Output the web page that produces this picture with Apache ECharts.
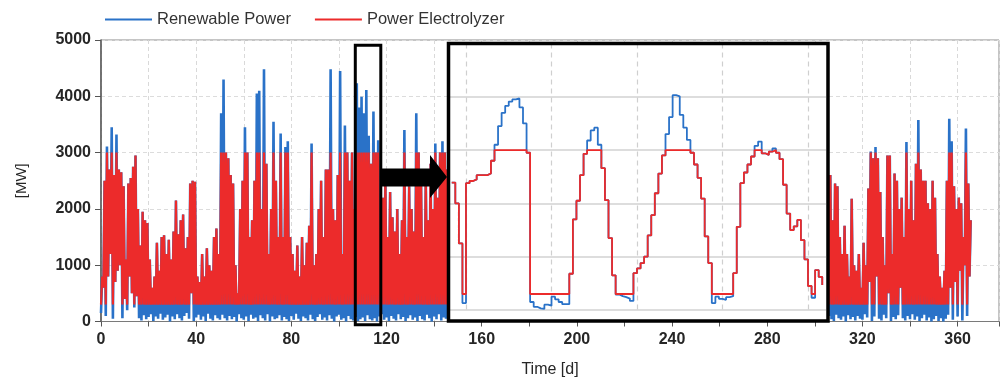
<!DOCTYPE html>
<html><head><meta charset="utf-8">
<script src="https://cdn.jsdelivr.net/npm/echarts@6/dist/echarts.min.js"></script>
<style>html,body{margin:0;padding:0;background:#fff}#c{width:1002px;height:383px}</style>
</head><body><div id="c"></div>
<script>
// ---------- data ----------
const seriesNames = ['Renewable Power', 'Power Electrolyzer'];
const xTickLabels = [0, 40, 80, 120, 160, 200, 240, 280, 320, 360];
const yTickLabels = [0, 1000, 2000, 3000, 4000, 5000];

// main chart, daily peak / trough, segment A starts at day 0
const dayStartA = 0;
const renewablePeakA = [800,2500,3110,2700,3450,2600,3320,2700,2650,2400,
1100,2450,2550,2750,2950,2000,1350,1950,1800,1750,
1100,600,800,1400,900,1500,1530,1200,1450,1100,
1600,2150,1550,1800,1900,1300,1500,2450,2500,2480,
800,700,1200,800,1300,1000,900,1500,1650,1200,
3700,4300,3000,2900,2600,2450,1000,500,2000,2500,
3450,3000,1500,1800,2500,4050,4100,2000,4480,2800,
1200,2000,3550,2500,1500,3340,1500,3100,3200,1500,
1200,900,1350,800,1500,1000,1400,1700,3160,1000,
1200,2000,2500,1500,2700,2700,4480,2000,1800,2600,
4450,1200,3480,3000,2500,3000,2000,4230,3800,3990,
3700,4110,3300,2800,3730,3000,3220,1500,2200,2500,
1500,2300,1850,1600,2000,1200,1800,3400,1500,2400,
2000,1600,3700,3000,2500,1500,2600,1800,2800,2000,
3160,2200,3000,3200,3000,2700,3000];
const renewableLowA = [150,600,100,800,1200,50,700,900,1000,60,
400,200,800,500,250,450,60,20,110,40,
80,130,10,90,50,140,30,70,120,0,
90,40,130,60,20,100,150,50,500,10,
70,120,30,90,10,140,50,20,110,60,
30,120,60,20,100,40,80,0,130,60,
30,90,10,120,50,70,10,110,60,20,
130,0,90,40,60,110,20,80,40,10,
100,30,140,50,10,90,60,20,120,40,
10,80,130,30,70,20,110,50,0,90,
120,30,60,0,100,40,20,80,10,40,
70,10,110,40,20,60,0,90,130,30,
70,10,100,50,20,130,40,80,10,60,
110,30,70,10,100,40,20,120,60,0,
90,40,130,20,70,50,100];
const electrolyzerPeakA = [800,2500,3000,2700,3000,2600,3000,2700,2650,2400,
1100,2450,2550,2750,2950,2000,1350,1950,1800,1750,
1100,600,800,1400,900,1500,1530,1200,1450,1100,
1600,2150,1550,1800,1900,1300,1500,2450,2500,2480,
800,700,1200,800,1300,1000,900,1500,1650,1200,
3000,3000,3000,2900,2600,2450,1000,500,2000,2500,
3000,3000,1500,1800,2500,3000,3000,2000,3000,2800,
1200,2000,3000,2500,1500,3000,1500,3000,3000,1500,
1200,900,1350,800,1500,1000,1400,1700,3000,1000,
1200,2000,2500,1500,2700,2700,3000,2000,1800,2600,
3000,1200,3000,3000,2500,3000,2000,3000,3000,3000,
3000,3000,3000,2800,3000,3000,3000,1500,2200,2500,
1500,2300,1850,1600,2000,1200,1800,3000,1500,2400,
2000,1600,3000,3000,2500,1500,2600,1800,2800,2000,
3000,2200,3000,3000,3000,2700,3000];
const electrolyzerLowA = [300,600,300,800,1200,300,700,900,1000,300,
400,300,800,500,300,450,300,300,300,300,
300,300,300,300,300,300,300,300,300,300,
300,300,300,300,300,300,300,300,500,300,
300,300,300,300,300,300,300,300,300,300,
300,300,300,300,300,300,300,300,300,300,
300,300,300,300,300,300,300,300,300,300,
300,300,300,300,300,300,300,300,300,300,
300,300,300,300,300,300,300,300,300,300,
300,300,300,300,300,300,300,300,300,300,
300,300,300,300,300,300,300,300,300,300,
300,300,300,300,300,300,300,300,300,300,
300,300,300,300,300,300,300,300,300,300,
300,300,300,300,300,300,300,300,300,300,
300,300,300,300,300,300,300];

// segment B starts at day 304
const dayStartB = 304;
const renewablePeakB = [4080,2420,2600,1800,2450,2400,1500,1200,1700,1200,
800,2180,1000,900,1200,600,1400,1000,2360,3020,
2900,3100,2900,2300,1500,1000,2950,2950,1200,2630,
2500,2000,2200,1500,3190,2000,2500,1800,2800,3580,
2700,2500,2500,2100,2000,2500,2200,1200,800,600,
900,2500,3600,3200,2400,2000,2200,2100,1500,3430,
2450,1800];
const renewableLowB = [2500,20,100,40,10,120,60,30,90,0,
110,40,80,20,100,50,30,130,70,700,
10,90,800,50,20,120,60,500,10,80,
40,110,600,60,20,100,40,130,30,90,
10,60,120,20,70,0,40,100,10,60,
0,50,120,600,30,700,90,900,20,1000,
100,800];
const electrolyzerPeakB = [3000,2420,2600,1800,2450,2400,1500,1200,1700,1200,
800,2180,1000,900,1200,600,1400,1000,2360,3000,
2900,3000,2900,2300,1500,1000,2950,2950,1200,2630,
2500,2000,2200,1500,3000,2000,2500,1800,2800,3000,
2700,2500,2500,2100,2000,2500,2200,1200,800,600,
900,2500,3000,3000,2400,2000,2200,2100,1500,3000,
2450,1800];
const electrolyzerLowB = [2500,300,300,300,300,300,300,300,300,300,
300,300,300,300,300,300,300,300,300,700,
300,300,800,300,300,300,300,500,300,300,
300,300,600,300,300,300,300,300,300,300,
300,300,300,300,300,300,300,300,300,300,
300,300,300,600,300,700,300,900,300,1000,
300,800];

// inset: hourly values, first value at hour -4 (gridlines at midnight)
const insetStartHour = -4;
const insetRenewable = [2390,2000,1250,130,2380,2420,2450,2530,2530,2530,
2560,2800,3100,3450,3700,3830,3910,3950,3970,3800,
3500,2950,150,60,30,20,100,80,250,200,
150,110,110,680,1700,2050,2530,2930,3180,3370,
3420,3100,2660,2060,1350,650,290,260,240,215,
170,690,780,880,1000,1400,1780,2190,2560,2900,
3300,3620,4030,4010,3660,3420,3190,2950,2730,2480,
2090,1380,880,130,250,210,190,240,260,690,
1560,2380,2580,2730,2880,3080,3160,2940,2910,2970,
3030,2950,2830,2350,1810,1500,1570,1690,1310,950,
450,230,750,620,470];
const insetElectrolyzer = [2390,2000,1250,300,2380,2420,2450,2530,2530,2530,
2560,2800,3000,3000,3000,3000,3000,3000,3000,3000,
3000,2950,300,300,300,300,300,300,300,300,
300,300,300,680,1700,2050,2530,2930,3000,3000,
3000,3000,2660,2060,1350,650,300,300,300,300,
300,690,780,880,1000,1400,1780,2190,2560,2900,
3000,3000,3000,3000,3000,3000,3000,2950,2730,2480,
2090,1380,880,300,300,300,300,300,300,690,
1560,2380,2580,2730,2880,3000,3000,2940,2910,2970,
3000,2950,2830,2350,1810,1500,1570,1690,1310,950,
450,300,750,620,470];

// ---------- build ----------
function daily(start, lows, peaks) {
  const out = [];
  lows.forEach((lo, i) => { out.push([start + i, lo]); out.push([start + i + 0.5, peaks[i]]); });
  return out;
}
function joinSegments(a, b) { return a.concat([['-', '-']], b); }
function hourly(start, vals) { return vals.map((v, i) => [start + i, v]); }

const BLUE = '#2a72c8', RED = '#ec2b2b';
const FONT = '"Liberation Sans", Arial, sans-serif';
const LABEL = '#262626';

const chart = echarts.init(document.getElementById('c'));
chart.setOption({
  animation: false,
  backgroundColor: '#ffffff',
  textStyle: { fontFamily: FONT },
  legend: {
    data: seriesNames, left: 100, top: 6, icon: 'rect', itemWidth: 47, itemHeight: 2, itemGap: 24,
    textStyle: { fontSize: 16.5, color: '#333', fontFamily: FONT }
  },
  grid: [
    { left: 101, right: -3, top: 40, bottom: 61.5, show: true, borderColor: '#8a8a8a', borderWidth: 1, backgroundColor: 'transparent' },
    { left: 450, top: 43.5, width: 376, height: 266.5 },
    { left: 466, top: 43.5, width: 342, height: 266.5 }
  ],
  xAxis: [
    { gridIndex: 0, type: 'value', min: 0, max: 377.4, interval: 20,
      name: 'Time [d]', nameLocation: 'middle', nameGap: 40,
      nameTextStyle: { fontSize: 16, color: LABEL, fontFamily: FONT },
      axisLine: { show: true, lineStyle: { color: '#7a7a7a', width: 1 } },
      axisTick: { show: true, length: 5, lineStyle: { color: '#555' } },
      axisLabel: { fontSize: 16, fontWeight: 'bold', color: LABEL, margin: 10, fontFamily: FONT,
        formatter: v => xTickLabels.includes(v) ? String(v) : '' },
      splitLine: { show: true, lineStyle: { color: '#d9d9d9', type: [4, 3] } } },
    { gridIndex: 1, type: 'value', min: -4.49, max: 101.05, show: false },
    { gridIndex: 2, type: 'value', min: 0, max: 96, interval: 24, z: 15,
      axisLine: { show: false }, axisTick: { show: false }, axisLabel: { show: false },
      splitLine: { show: true, lineStyle: { color: '#cfcfcf', type: [5, 4], width: 1.2 } } }
  ],
  yAxis: [
    { gridIndex: 0, type: 'value', min: 0, max: 5000, interval: 1000,
      name: '[MW]', nameLocation: 'middle', nameRotate: 90, nameGap: 72,
      nameTextStyle: { fontSize: 15, color: LABEL, fontFamily: FONT },
      axisLine: { show: true, lineStyle: { color: '#555', width: 1.5 } },
      axisTick: { show: true, length: 6, lineStyle: { color: '#555' } },
      axisLabel: { fontSize: 16, fontWeight: 'bold', color: LABEL, margin: 10, fontFamily: FONT,
        formatter: v => yTickLabels.includes(v) ? String(v) : '' },
      splitLine: { show: true, lineStyle: { color: '#dcdcdc', type: [4, 3] } } },
    { gridIndex: 1, type: 'value', min: 0, max: 5000, interval: 1000, z: 15,
      axisLine: { show: false }, axisTick: { show: false }, axisLabel: { show: false },
      splitLine: { show: true, lineStyle: { color: '#d2d2d2', width: 1.5 } } },
    { gridIndex: 2, type: 'value', min: 0, max: 5000, show: false }
  ],
  series: [
    { name: seriesNames[0], type: 'line', xAxisIndex: 0, yAxisIndex: 0, step: 'end', symbol: 'none', z: 2,
      data: joinSegments(daily(dayStartA, renewableLowA, renewablePeakA), daily(dayStartB, renewableLowB, renewablePeakB)),
      lineStyle: { color: BLUE, width: 2.6 }, itemStyle: { color: BLUE } },
    { name: seriesNames[1], type: 'line', xAxisIndex: 0, yAxisIndex: 0, step: 'end', symbol: 'none', z: 3,
      data: joinSegments(daily(dayStartA, electrolyzerLowA, electrolyzerPeakA), daily(dayStartB, electrolyzerLowB, electrolyzerPeakB)),
      lineStyle: { color: RED, width: 2.2 }, itemStyle: { color: RED } },
    { name: seriesNames[0], type: 'line', xAxisIndex: 1, yAxisIndex: 1, step: 'end', symbol: 'none', z: 20,
      data: hourly(insetStartHour, insetRenewable),
      lineStyle: { color: BLUE, width: 1.8 }, itemStyle: { color: BLUE } },
    { name: seriesNames[1], type: 'line', xAxisIndex: 1, yAxisIndex: 1, step: 'end', symbol: 'none', z: 21,
      data: hourly(insetStartHour, insetElectrolyzer),
      lineStyle: { color: RED, width: 1.8 }, itemStyle: { color: RED } }
  ],
  graphic: [
    { type: 'rect', z: 10, shape: { x: 448.5, y: 43.5, width: 379.5, height: 277.5 }, style: { fill: '#fff' } },
    { type: 'rect', z: 40, shape: { x: 448.5, y: 43.5, width: 379.5, height: 277.5 }, style: { fill: null, stroke: '#000', lineWidth: 3.5 } },
    { type: 'rect', z: 40, shape: { x: 355.3, y: 45.3, width: 25.5, height: 279.4 }, style: { fill: null, stroke: '#000', lineWidth: 3 } },
    { type: 'polygon', z: 40, shape: { points: [[381, 168.5], [430, 168.5], [430, 155], [447, 177], [430, 198], [430, 186.5], [381, 186.5]] }, style: { fill: '#000' } }
  ]
});
</script>
</body></html>
